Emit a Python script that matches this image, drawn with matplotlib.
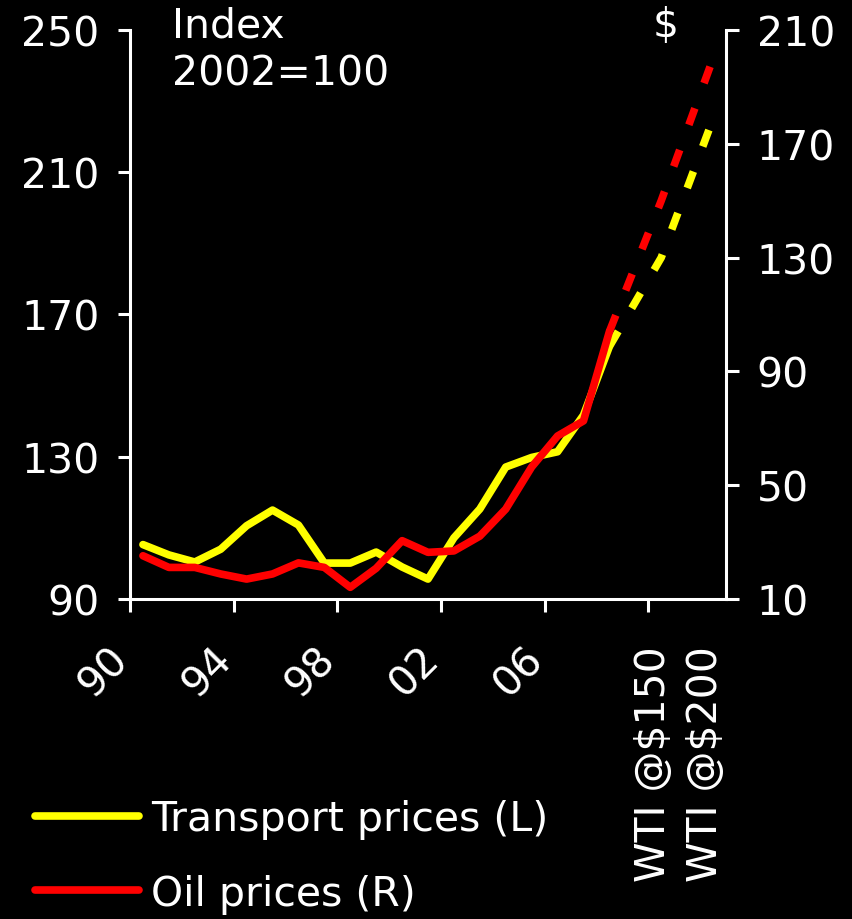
import numpy as np
import matplotlib
matplotlib.use("Agg")
import matplotlib.pyplot as plt
from matplotlib.transforms import ScaledTranslation

# data
years = list(range(1990, 2009))
transport = [105.3, 102.4, 100.4, 104.0, 110.6, 115.0, 110.8, 100.1, 100.1, 103.2,
             99.0, 95.6, 107.2, 115.3, 127.1, 129.8, 131.4, 141.7, 161.0]
oil = [25.2, 21.1, 21.1, 18.8, 17.0, 18.8, 22.7, 21.1, 14.1, 20.8,
       30.5, 26.4, 26.9, 32.1, 41.6, 56.4, 67.3, 72.6, 104.0]

scenarios = ['WTI @$150', 'WTI @$200']
transport_scen = [186.0, 225.0]
oil_scen = [150.0, 200.0]

# category axis: years, a gap, scenario, a gap, scenario
categories = [str(y)[2:] for y in years] + ['', scenarios[0], '', scenarios[1]]
shown = ['90', '94', '98', '02', '06'] + scenarios

fs = 29.5
plt.rcParams['font.family'] = 'DejaVu Sans'
plt.rcParams['font.size'] = fs

fig = plt.figure(figsize=(8.52, 9.2), dpi=100, facecolor='black')
ax = fig.add_axes([130 / 852, 1 - 600 / 920, 596 / 852, 569 / 920])
ax.set_facecolor('black')
ax2 = ax.twinx()

x_hist = np.arange(len(years))
x_scen = [len(years) - 1] + [categories.index(s) for s in scenarios]

lw = 5.5
ax.plot(x_hist, transport, color='#FFFF00', lw=lw, solid_joinstyle='round',
        solid_capstyle='round', label='Transport prices (L)')
ax.plot(x_scen, [transport[-1]] + transport_scen, color='#FFFF00', lw=lw,
        dashes=(2.3, 3.5), dash_capstyle='butt')
ax2.plot(x_hist, oil, color='#FF0000', lw=lw, solid_joinstyle='round',
         solid_capstyle='round', label='Oil prices (R)')
ax2.plot(x_scen, [oil[-1]] + oil_scen, color='#FF0000', lw=lw,
         dashes=(2.3, 3.5), dash_capstyle='butt')

ax.set_xlim(-0.5, len(categories) - 0.5)
ax.set_ylim(90, 250)
ax.set_yticks(np.arange(90, 251, 40))
ax2.set_ylim(10, 210)
ax2.set_yticks(np.arange(10, 211, 40))

tick_pos = [categories.index(s) - 0.5 for s in shown]
ax.set_xticks(tick_pos)
ax.set_xticklabels(shown)
ax.xaxis.get_major_ticks()[-1].tick1line.set_visible(False)

for a in (ax, ax2):
    for s in a.spines.values():
        s.set_visible(False)
    a.tick_params(colors='white', width=2.2, length=9, labelsize=fs)
ax.spines['left'].set_visible(True)
ax.spines['bottom'].set_visible(True)
ax2.spines['right'].set_visible(True)
for s in (ax.spines['left'], ax.spines['bottom'], ax2.spines['right']):
    s.set_color('white')
    s.set_linewidth(2.2)
ax.tick_params(axis='y', pad=13)
ax2.tick_params(axis='y', pad=13)
ax.tick_params(axis='x', pad=24)

year_shift = ScaledTranslation(-0.22, 0.06, fig.dpi_scale_trans)
wti_shift = ScaledTranslation(0.06, 0.0, fig.dpi_scale_trans)
for lab, txt in zip(ax.get_xticklabels(), shown):
    if txt.startswith('WTI'):
        lab.set_rotation(90)
        lab.set_ha('center')
        lab.set_va('top')
        lab.set_transform(lab.get_transform() + wti_shift)
    else:
        lab.set_rotation(45)
        lab.set_ha('right')
        lab.set_va('top')
        lab.set_rotation_mode('anchor')
        lab.set_transform(lab.get_transform() + year_shift)

fig.text(172 / 852, 1 - 6 / 920, 'Index\n2002=100', color='white', fontsize=fs,
         ha='left', va='top', linespacing=1.28)
fig.text(666 / 852, 1 - 6 / 920, '$', color='white', fontsize=fs, ha='center', va='top')

h1, l1 = ax.get_legend_handles_labels()
h2, l2 = ax2.get_legend_handles_labels()
leg = fig.legend(h1 + h2, l1 + l2, loc='upper left', bbox_to_anchor=(35 / 852, 1 - 800 / 920),
                 frameon=False, fontsize=fs, handlelength=2.55, handletextpad=0.28,
                 labelspacing=0.85, borderpad=0, borderaxespad=0)
for t in leg.get_texts():
    t.set_color('white')

fig.savefig('out.png', dpi=100, facecolor='black')
